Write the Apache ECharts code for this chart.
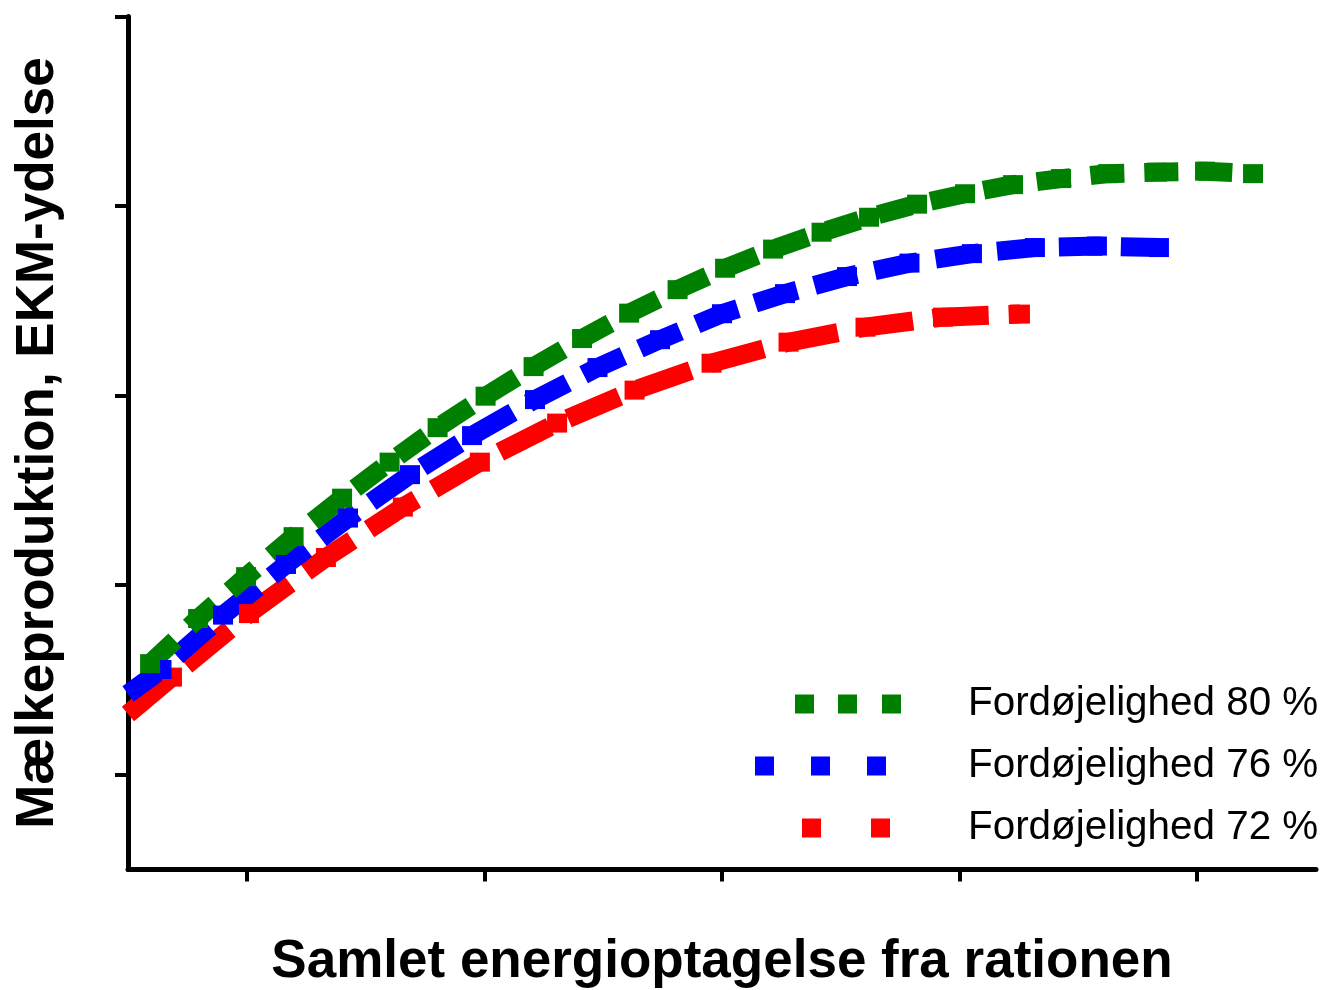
<!DOCTYPE html>
<html>
<head>
<meta charset="utf-8">
<script src="https://cdn.jsdelivr.net/npm/echarts@6/dist/echarts.min.js"></script>
<style>
  html, body { margin: 0; padding: 0; background: #fff; }
  #chart { width: 1322px; height: 990px; }
</style>
</head>
<body>
<div id="chart"></div>
<script>
// ---- data (axes carry no numeric labels) ----
const seriesNames = ['Fordøjelighed 80 %', 'Fordøjelighed 76 %', 'Fordøjelighed 72 %'];

const x80 = [0.593, 0.795, 0.997, 1.197, 1.401, 1.601, 1.803, 2.005, 2.207, 2.411, 2.609, 2.813,
             3.013, 3.215, 3.419, 3.619, 3.821, 4.023, 4.225, 4.427, 4.625, 4.831, 5.033, 5.235];
const y80 = [1.586, 1.824, 2.045, 2.256, 2.459, 2.649, 2.831, 2.997, 3.153, 3.301, 3.435, 3.559,
             3.672, 3.773, 3.862, 3.941, 4.010, 4.065, 4.113, 4.145, 4.171, 4.179, 4.184, 4.171];

const x76 = [0.5, 0.641, 0.900, 1.165, 1.426, 1.687, 1.948, 2.213, 2.476, 2.739, 3.000, 3.265,
             3.526, 3.789, 4.052, 4.317, 4.578, 4.839];
const y76 = [1.426, 1.555, 1.842, 2.109, 2.354, 2.583, 2.789, 2.979, 3.148, 3.295, 3.432, 3.538,
             3.628, 3.699, 3.749, 3.781, 3.789, 3.781];

const x72 = [0.5, 0.685, 1.009, 1.333, 1.657, 1.981, 2.306, 2.632, 2.956, 3.280, 3.604, 3.930, 4.254];
const y72 = [1.320, 1.515, 1.850, 2.146, 2.412, 2.649, 2.855, 3.029, 3.171, 3.282, 3.361, 3.414, 3.430];

const tickValues = [1, 2, 3, 4, 5];
const xTitle = 'Samlet energioptagelse fra rationen';
const yTitle = 'Mælkeproduktion, EKM-ydelse';

// ---- chart ----
const FONT = '"Liberation Sans", Arial, Helvetica, sans-serif';
const colors = { g: '#008000', b: '#0000ff', r: '#ff0000' };

function pts(xs, ys, startAtAxis) {
  return xs.map((x, i) => {
    const item = { value: [x, ys[i]] };
    if (startAtAxis && i === 0) item.symbol = 'none';
    return item;
  });
}

function lineSeries(name, color, data, dash) {
  return {
    name: name,
    type: 'line',
    data: data,
    clip: false,
    showSymbol: true,
    showAllSymbol: true,
    symbol: 'rect',
    symbolSize: [20, 19],
    itemStyle: { color: color, borderWidth: 0 },
    lineStyle: { color: color, width: 19, type: dash, cap: 'butt', join: 'miter' },
    emphasis: { disabled: true },
    silent: true,
    animation: false
  };
}

// legend icons: square samples, all boxes 208 x 19 so the text lines up
const iconG = 'path://M0,0L0,0Z M208,19L208,19Z M40,0h19v19h-19Z M83,0h19v19h-19Z M127,0h19v19h-19Z';
const iconB = 'path://M0,0L0,0Z M208,19L208,19Z M0,0h19v19h-19Z M56,0h19v19h-19Z M112,0h19v19h-19Z';
const iconR = 'path://M0,0L0,0Z M208,19L208,19Z M47,0h19v19h-19Z M116,0h19v19h-19Z';

const chart = echarts.init(document.getElementById('chart'), null, { renderer: 'canvas' });
chart.setOption({
  backgroundColor: '#ffffff',
  animation: false,
  grid: { left: 128, right: 6, top: 16.5, bottom: 120.5, containLabel: false, outerBoundsMode: 'none' },
  legend: {
    orient: 'vertical',
    left: 755,
    top: 684,
    padding: 0,
    itemWidth: 208,
    itemHeight: 19,
    itemGap: 22,
    selectedMode: false,
    itemStyle: { borderWidth: 0 },
    textStyle: { fontFamily: FONT, fontSize: 40.4, lineHeight: 40, color: '#000' },
    data: [
      { name: seriesNames[0], icon: iconG },
      { name: seriesNames[1], icon: iconB },
      { name: seriesNames[2], icon: iconR }
    ]
  },
  xAxis: {
    type: 'value',
    min: 0.5,
    max: 5.5,
    name: xTitle,
    nameLocation: 'middle',
    nameGap: 66,
    nameTextStyle: { fontFamily: FONT, fontSize: 53, fontWeight: 'bold', color: '#000' },
    axisLine: { show: true, onZero: false, lineStyle: { color: '#000', width: 5 } },
    axisTick: { show: true, customValues: tickValues, length: 12, lineStyle: { color: '#000', width: 4 } },
    axisLabel: { show: false },
    splitLine: { show: false }
  },
  yAxis: {
    type: 'value',
    min: 0.5,
    max: 5,
    name: yTitle,
    nameLocation: 'middle',
    nameGap: 63,
    nameTextStyle: { fontFamily: FONT, fontSize: 53, fontWeight: 'bold', color: '#000' },
    axisLine: { show: true, onZero: false, lineStyle: { color: '#000', width: 5 } },
    axisTick: { show: true, customValues: tickValues, length: 13, lineStyle: { color: '#000', width: 4 } },
    axisLabel: { show: false },
    splitLine: { show: false }
  },
  series: [
    lineSeries(seriesNames[2], colors.r, pts(x72, y72, true), [56, 20]),
    lineSeries(seriesNames[1], colors.b, pts(x76, y76, true), [44, 18]),
    lineSeries(seriesNames[0], colors.g, pts(x80, y80, false), [34, 20])
  ]
});
</script>
</body>
</html>
